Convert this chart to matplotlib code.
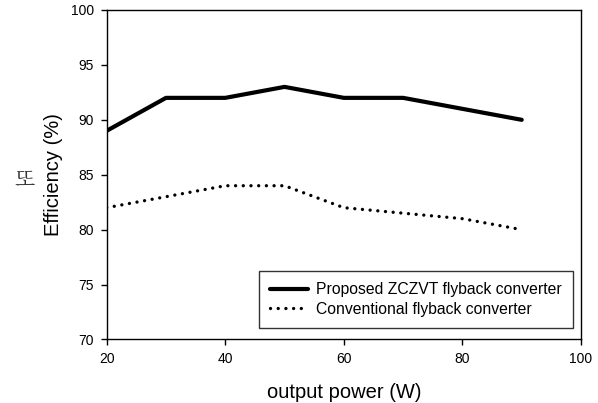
import matplotlib
matplotlib.use("Agg")
import matplotlib.pyplot as plt

# data
power = [20, 30, 40, 50, 60, 70, 80, 90]
eff_proposed = [89, 92, 92, 93, 92, 92, 91, 90]
eff_conventional = [82, 83, 84, 84, 82, 81.5, 81, 80]
x_ticks = [20, 40, 60, 80, 100]
y_ticks = [70, 75, 80, 85, 90, 95, 100]

plt.rcParams['font.family'] = ['Liberation Sans', 'DejaVu Sans']

fig = plt.figure(figsize=(5.98, 4.03), dpi=100)
ax = fig.add_axes([0.1784, 0.1576, 0.7932, 0.8176])

ax.plot(power, eff_proposed, color='black', lw=3.0, solid_capstyle='round',
        label='Proposed ZCZVT flyback converter')
ax.plot(power, eff_conventional, color='black', lw=2.4,
        linestyle=(0, (0.01, 2.3)), dash_capstyle='round',
        label='Conventional flyback converter')

ax.set_xlim(20, 100)
ax.set_ylim(70, 100)
ax.set_xticks(x_ticks)
ax.set_yticks(y_ticks)
ax.tick_params(direction='out', length=4, width=1, labelsize=10, pad=5,
               top=False, right=False)
for s in ax.spines.values():
    s.set_linewidth(1.0)

ax.set_xlabel('output power (W)', fontsize=14.5, labelpad=12)
ax.set_ylabel('Efficiency (%)', fontsize=14.5, labelpad=6)

# stray Korean glyph left of the y label
fig.text(25 / 598, 1 - 180 / 403, '또',
         family=['Noto Serif CJK KR', 'Noto Sans CJK KR'],
         fontsize=15, color='#333333', ha='center', va='center')

leg = ax.legend(loc='lower right', bbox_to_anchor=(0.983, 0.035),
                fontsize=11.3, frameon=True, fancybox=False, edgecolor='black',
                handlelength=2.4, handletextpad=0.55, borderpad=0.7,
                labelspacing=0.3, borderaxespad=0)
leg.get_frame().set_linewidth(1.0)

fig.savefig('out.png', dpi=100)
